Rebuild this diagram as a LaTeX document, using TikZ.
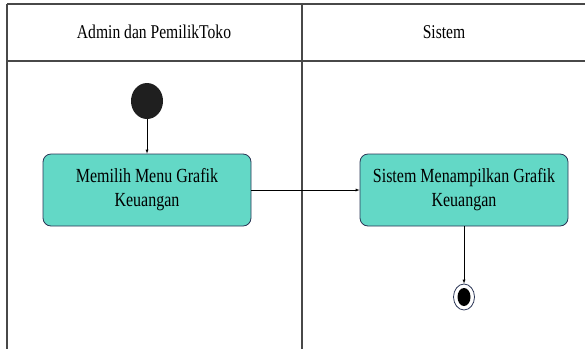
\documentclass[tikz,border=0pt]{standalone}
\usepackage{fontspec}
\newfontfamily\diafont[FakeStretch=0.8]{Liberation Serif}
\usetikzlibrary{positioning,shapes,arrows}
\definecolor{actfill}{HTML}{63D8C6}
\definecolor{actline}{HTML}{2A3555}
\definecolor{laneline}{HTML}{484848}

\begin{document}
\begin{tikzpicture}[%
        x=1pt, y=-1pt,
        ->, >=latex,
        node distance=0.4cm,
        lane/.style={draw=laneline, line width=1.5pt, -},
        activity/.style={%
          rectangle,
          rounded corners=8pt,
          minimum width=208pt,
          minimum height=72pt,
          fill=actfill,
          draw=actline,
          thick,
          align=center,
          font=\diafont\fontsize{20}{24}\selectfont
        },
        initial/.style={ellipse, fill=black!88, minimum width=32pt, minimum height=36pt, inner sep=0pt},
        final/.style={ellipse, draw=actline, thick, fill=white, minimum width=21pt, minimum height=26pt, inner sep=0pt},
        header/.style={font=\diafont\fontsize{19.5}{22}\selectfont}
      ]
      \useasboundingbox (0,0) rectangle (585,349);
      % swimlanes
      \draw[lane] (7,4) -- (585,4);
      \draw[lane] (7,61) -- (585,61);
      \draw[lane] (7,4) -- (7,349);
      \draw[lane] (302,4) -- (302,349);
      \node[header] (h1) at (154,32) {Admin dan PemilikToko};
      \node[header] (h2) at (444,32) {Sistem};

      \node[initial] (1) at (147,101) {};
      \node[activity] (2) at (147,190) {Memilih Menu Grafik\\Keuangan};
      \node[activity] (3) at (464,190) {Sistem Menampilkan Grafik\\Keuangan};
      \node[final] (4) at (464,297) {};
      \node[ellipse, fill=black, minimum width=13pt, minimum height=18pt, inner sep=0pt] (5) at (4) {};

      \path (1) edge [] node {} (2)
      (2) edge [] node {} (3)
      (3) edge [] node {} (4);

  \end{tikzpicture}
\end{document}
